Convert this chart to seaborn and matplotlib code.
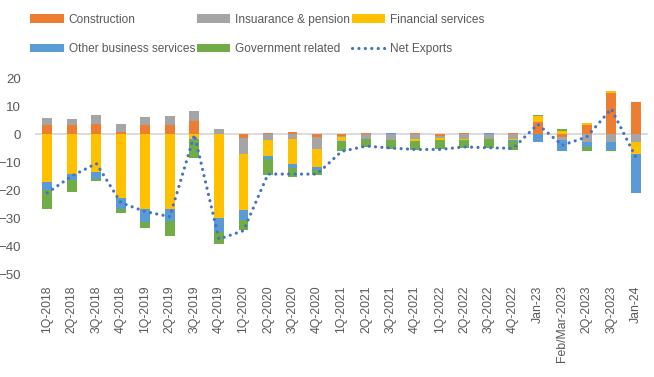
import numpy as np
import pandas as pd
import matplotlib
matplotlib.use('Agg')
import matplotlib.pyplot as plt
import seaborn as sns
from matplotlib.patches import Patch
from matplotlib.lines import Line2D

# dados
categorias = ['1Q-2018', '2Q-2018', '3Q-2018', '4Q-2018', '1Q-2019', '2Q-2019', '3Q-2019', '4Q-2019',
              '1Q-2020', '2Q-2020', '3Q-2020', '4Q-2020', '1Q-2021', '2Q-2021', '3Q-2021', '4Q-2021',
              '1Q-2022', '2Q-2022', '3Q-2022', '4Q-2022', 'Jan-23', 'Feb/Mar-2023', '2Q-2023', '3Q-2023', 'Jan-24']

construction = [3.1, 3.2, 3.6, 0.8, 3.2, 3.2, 4.5, 0.0, -1.3, 0.4, 0.7, -1.1, -0.8, 0.3, 0.0, 0.3,
                -0.8, 0.3, 0.0, 0.3, 4.4, -1.0, 3.3, 14.8, 11.5]
insurance = [2.6, 2.2, 3.2, 2.8, 2.9, 3.2, 3.8, 1.8, -5.8, -2.1, -1.8, -4.3, -0.4, -1.7, -2.0, -1.7,
             -0.7, -1.7, -1.7, -1.7, 0.0, -1.1, -2.7, -2.7, -2.7]
financial = [-17.1, -14.3, -13.6, -22.7, -26.8, -26.8, -1.7, -30.0, -20.0, -5.7, -8.9, -6.4, -1.4, 0.0, 0.0, -0.7,
             -0.7, -0.4, 0.0, -0.5, 2.1, 1.2, 0.7, 0.7, -4.5]
other_business = [-2.9, -2.1, -2.6, -4.1, -4.5, -4.4, -0.5, -5.0, -3.6, -1.2, -1.3, -1.1, -0.3, 0.0, 0.3, 0.0,
                  0.0, 0.0, 0.3, -0.2, -2.7, -3.9, -1.8, -3.0, -13.9]
government = [-6.8, -4.2, -0.6, -1.3, -2.2, -5.1, -6.2, -4.2, -3.6, -5.6, -3.2, -1.8, -3.1, -2.9, -3.2, -3.2,
              -3.3, -3.0, -3.3, -3.2, 0.4, 0.7, -1.4, -0.2, 0.0]
net_exports = [-21.0, -15.0, -10.5, -24.5, -27.7, -29.5, -0.2, -37.5, -34.5, -14.3, -14.3, -14.3, -6.2, -4.3, -5.0, -5.5,
               -5.5, -4.6, -4.9, -5.1, 3.5, -4.0, -1.0, 9.0, -8.3]

series = [('Construction', construction, '#ED7D31'),
          ('Insuarance & pension', insurance, '#A5A5A5'),
          ('Financial services', financial, '#FFC000'),
          ('Other business services', other_business, '#5B9BD5'),
          ('Government related', government, '#70AD47')]

sns.set_style('white')
plt.rcParams['font.family'] = ['Liberation Sans', 'DejaVu Sans']
cinza = '#595959'

fig = plt.figure(figsize=(6.54, 3.77), dpi=100)
ax = fig.add_axes([0.0535, 0.273, 0.9375, 0.52])

x = np.arange(len(categorias))
base_pos = np.zeros(len(categorias))
base_neg = np.zeros(len(categorias))

# barras empilhadas (positivos e negativos separados, como no excel)
for nome, valores, cor in series:
    v = np.array(valores)
    base = np.where(v >= 0, base_pos, base_neg)
    ax.bar(x, v, width=0.4, bottom=base, color=cor, zorder=2, linewidth=0)
    base_pos = base_pos + np.where(v >= 0, v, 0)
    base_neg = base_neg + np.where(v < 0, v, 0)

# linha de exportacoes liquidas
df_linha = pd.DataFrame({'x': x, 'net': net_exports})
sns.lineplot(data=df_linha, x='x', y='net', ax=ax, color='#4472C4', linewidth=2.3,
             linestyle=(0, (0.01, 2.0)), zorder=3)
ax.lines[-1].set_dash_capstyle('round')

ax.axhline(0, color='#D9D9D9', linewidth=1.3, zorder=1)

ax.set_xlim(-0.5, len(categorias) - 0.5)
ax.set_ylim(-50, 20)
ax.set_yticks(range(-50, 21, 10))
ax.set_xticks(x)
ax.set_xticklabels(categorias, rotation=90, fontsize=8.8, color=cinza)
ax.tick_params(axis='y', labelsize=9.5, colors=cinza, length=0, pad=10)
ax.tick_params(axis='x', length=0, pad=8)
ax.set_xlabel('')
ax.set_ylabel('')
for s in ax.spines.values():
    s.set_visible(False)

# legenda em linhas (ordem do excel)
h = {nome: Patch(facecolor=cor, edgecolor='none') for nome, _, cor in series}
h_net = Line2D([], [], color='#4472C4', linewidth=2.3, linestyle=(0, (0.01, 2.0)), dash_capstyle='round')
handles = [h['Construction'], h['Other business services'],
           h['Insuarance & pension'], h['Government related'],
           h['Financial services'], h_net]
labels = ['Construction', 'Other business services', 'Insuarance & pension', 'Government related',
          'Financial services', 'Net Exports']
fig.legend(handles, labels, loc='upper left', bbox_to_anchor=(0.03, 0.992), ncol=3, frameon=False,
           fontsize=8.6, labelcolor=cinza, handlelength=2.8, handleheight=0.7, handletextpad=0.4,
           columnspacing=0.15, labelspacing=1.45)

plt.savefig('out.png', dpi=100)
